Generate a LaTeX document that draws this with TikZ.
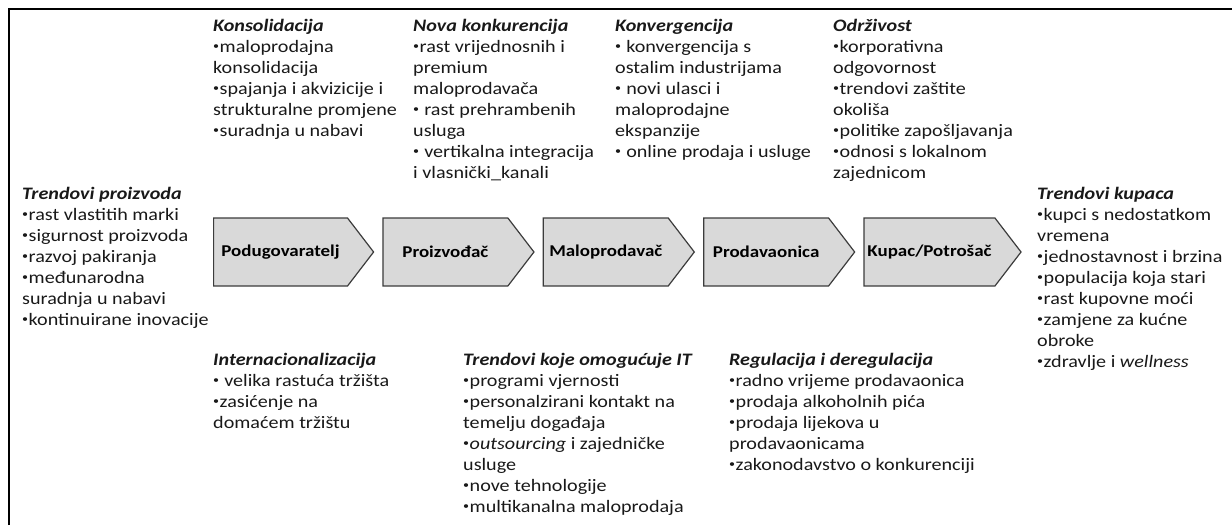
\documentclass[tikz,border=0pt]{standalone}
\usepackage{fontspec}
\setmainfont{Carlito}[FakeStretch=1.15]
\usepackage{xcolor}
\usepackage{tikz}
\usetikzlibrary{shapes.symbols, positioning}
\definecolor{stagebg}{RGB}{217,217,217}
\definecolor{stageframe}{RGB}{60,60,60}
\definecolor{trendtext}{RGB}{25,25,25}
\newcommand{\trendhead}[1]{\textbf{\textit{#1}}}
\newcommand{\bul}{\raisebox{0.3ex}{\fontsize{10.5}{10.5}\selectfont•}\kern0.5pt}

\begin{document}
\begin{tikzpicture}[x=1pt, y=1pt,
        stage/.style={signal, signal to=east, signal pointer angle=105, draw=stageframe, fill=stagebg, line width=1.2pt, minimum height=68pt, font=\fontsize{16.5}{20}\selectfont\bfseries, text=black},
        trend/.style={anchor=north west, align=left, inner sep=0pt, font=\fontsize{17.5}{21}\selectfont, text=trendtext},
        frame/.style={line width=2.6pt}
    ]
    \useasboundingbox (0,0) rectangle (1232,-525);

    % Frame
    \draw[frame] (9,-525) -- (9,-9) -- (1232,-9);

    % Value chain
    \node[stage, minimum width=160pt, anchor=west] (pod) at (213,-252) {Podugovaratelj};
    \node[stage, minimum width=151pt] (pro) [right=8pt of pod] {Proizvođač};
    \node[stage, minimum width=151pt] (mal) [right=8pt of pro] {Maloprodavač};
    \node[stage, minimum width=151pt] (prod) [right=8pt of mal] {Prodavaonica};
    \node[stage, minimum width=157pt] (kup) [right=8pt of prod] {Kupac/Potrošač};

    % Upper trends
    \node[trend] (kons) at (213,-19) {\trendhead{Konsolidacija}\\\bul maloprodajna\\konsolidacija\\\bul spajanja i akvizicije i\\strukturalne promjene\\\bul suradnja u nabavi};
    \node[trend] (nova) at (413,-19) {\trendhead{Nova konkurencija}\\\bul rast vrijednosnih i\\premium\\maloprodavača\\\bul\ rast prehrambenih\\usluga\\\bul\ vertikalna integracija\\i vlasnički\_kanali};
    \node[trend] (konv) at (615,-19) {\trendhead{Konvergencija}\\\bul\ konvergencija s\\ostalim industrijama\\\bul\ novi ulasci i\\maloprodajne\\ekspanzije\\\bul\ online prodaja i usluge};
    \node[trend] (odr) at (833,-19) {\trendhead{Održivost}\\\bul korporativna\\odgovornost\\\bul trendovi zaštite\\okoliša\\\bul politike zapošljavanja\\\bul odnosi s lokalnom\\zajednicom};

    % Side trends
    \node[trend] (proizv) at (22,-187) {\trendhead{Trendovi proizvoda}\\\bul rast vlastitih marki\\\bul sigurnost proizvoda\\\bul razvoj pakiranja\\\bul međunarodna\\suradnja u nabavi\\\bul kontinuirane inovacije};
    \node[trend] (kupci) at (1037,-187) {\trendhead{Trendovi kupaca}\\\bul kupci s nedostatkom\\vremena\\\bul jednostavnost i brzina\\\bul populacija koja stari\\\bul rast kupovne moći\\\bul zamjene za kućne\\obroke\\\bul zdravlje i \textit{wellness}};

    % Lower trends
    \node[trend] (inter) at (213,-353) {\trendhead{Internacionalizacija}\\\bul\ velika rastuća tržišta\\\bul zasićenje na\\domaćem tržištu};
    \node[trend] (it) at (463,-353) {\trendhead{Trendovi koje omogućuje IT}\\\bul programi vjernosti\\\bul personalzirani kontakt na\\temelju događaja\\\bul\textit{outsourcing} i zajedničke\\usluge\\\bul nove tehnologije\\\bul multikanalna maloprodaja};
    \node[trend] (reg) at (729,-353) {\trendhead{Regulacija i deregulacija}\\\bul radno vrijeme prodavaonica\\\bul prodaja alkoholnih pića\\\bul prodaja lijekova u\\prodavaonicama\\\bul zakonodavstvo o konkurenciji};

\end{tikzpicture}
\end{document}
